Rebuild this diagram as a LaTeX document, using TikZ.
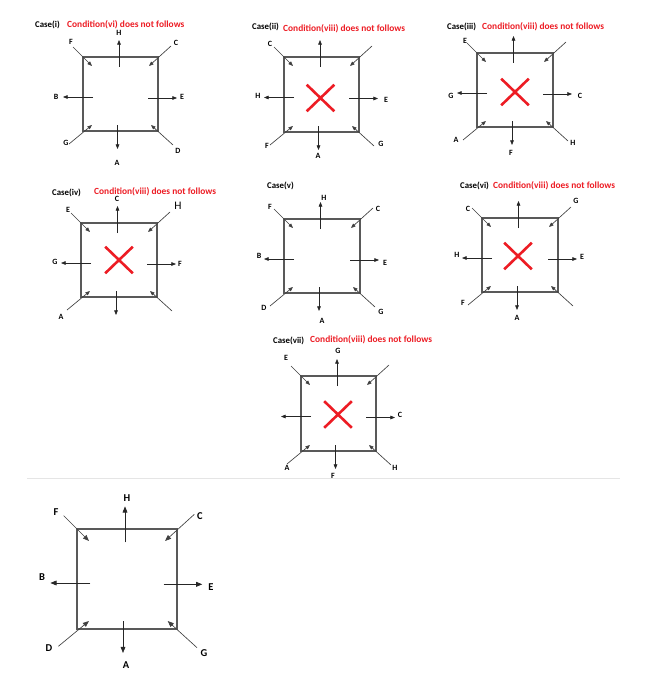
\documentclass[tikz,border=0pt]{standalone}
\usepackage{fontspec}
\setmainfont{Carlito}
\usetikzlibrary{arrows.meta,shapes.misc}
\definecolor{cred}{RGB}{237,28,36}
\tikzset{
 sqbox/.style={draw=black!65, line width=1.2pt, inner sep=0pt, outer sep=0pt},
 outarrow/.style={draw=black!85, line width=0.65pt},
 diagarrow/.style={draw=black!75, line width=0.65pt},
 lbl/.style={font=\bfseries\fontsize{8}{9}\selectfont, inner sep=0pt},
 biglbl/.style={font=\bfseries\fontsize{10.5}{11}\selectfont, inner sep=0pt},
 hlbl/.style={font=\fontsize{11.5}{12}\selectfont, inner sep=0pt},
 casettl/.style={font=\bfseries\fontsize{8.8}{10}\selectfont, inner sep=0pt, anchor=west},
 condttl/.style={font=\bfseries\fontsize{9.4}{10}\selectfont, text=cred, inner sep=0pt, anchor=west},
 redx/.style={cross out, draw=cred, line width=2.6pt, inner sep=0pt, minimum width=25pt, minimum height=24pt},
 sepline/.style={draw=black!10, line width=0.8pt},
}
% #1 name, #2 x1, #3 y1, #4 x2, #5 y2, #6 scale
\newcommand\sqcase[6]{%
 \pgfmathsetmacro\mx{(#2+#4)/2}%
 \pgfmathsetmacro\my{(#3+#5)/2}%
 \pgfmathsetmacro\sw{#4-#2}%
 \pgfmathsetmacro\sh{#5-#3}%
 \node[sqbox, minimum width=\sw pt, minimum height=\sh pt] (#1-sq) at (\mx,\my) {};
 \coordinate (#1-ni) at (\mx-1.5*#6, #3+10*#6);
 \coordinate (#1-no) at (\mx-1.5*#6, #3-17*#6);
 \coordinate (#1-si) at (\mx-3*#6, #5-6*#6);
 \coordinate (#1-so) at (\mx-3*#6, #5+18*#6);
 \coordinate (#1-wi) at (#2+10*#6, \my+3*#6);
 \coordinate (#1-wo) at (#2-20*#6, \my+3*#6);
 \coordinate (#1-ei) at (#4-10*#6, \my+4*#6);
 \coordinate (#1-eo) at (#4+19*#6, \my+4*#6);
 \coordinate (#1-nwo) at (#2-10*#6, #3-10*#6);
 \coordinate (#1-nwi) at (#2+9*#6, #3+9*#6);
 \coordinate (#1-neo) at (#4+13*#6, #3-11*#6);
 \coordinate (#1-nei) at (#4-9*#6, #3+9*#6);
 \coordinate (#1-swo) at (#2-14*#6, #5+13*#6);
 \coordinate (#1-swi) at (#2+9*#6, #5-6*#6);
 \coordinate (#1-seo) at (#4+15*#6, #5+14*#6);
 \coordinate (#1-sei) at (#4-7*#6, #5-6*#6);
 \draw[outarrow, -{Triangle[length=4.6pt,width=3.6pt,scale=#6]}] (#1-ni) -- (#1-no);
 \draw[outarrow, -{Triangle[length=4.6pt,width=3.6pt,scale=#6]}] (#1-si) -- (#1-so);
 \draw[outarrow, -{Triangle[length=4.6pt,width=3.6pt,scale=#6]}] (#1-wi) -- (#1-wo);
 \draw[outarrow, -{Triangle[length=4.6pt,width=3.6pt,scale=#6]}] (#1-ei) -- (#1-eo);
 \draw[diagarrow, -{Triangle[length=4.6pt,width=3.6pt,scale=#6]}] (#1-nwo) -- (#1-nwi);
 \draw[diagarrow, -{Triangle[length=4.6pt,width=3.6pt,scale=#6]}] (#1-neo) -- (#1-nei);
 \draw[diagarrow, -{Triangle[length=4.6pt,width=3.6pt,scale=#6]}] (#1-swo) -- (#1-swi);
 \draw[diagarrow, -{Triangle[length=4.6pt,width=3.6pt,scale=#6]}] (#1-seo) -- (#1-sei);
}
\begin{document}
\begin{tikzpicture}[x=1pt,y=-1pt]
\fill[white] (0,0) rectangle (645,677);
\useasboundingbox (0,0) rectangle (645,677);

% ---------- Case (i)
\node[casettl] (t1) at (35,25) {Case(i)};
\node[condttl] (c1) at (67,25) {Condition(vi) does not follows};
\sqcase{i}{83}{57}{158}{131}{1}
\node[lbl] (i-H) at (119,33) {H};
\node[lbl] (i-F) at (71,42) {F};
\node[lbl] (i-C) at (176,43) {C};
\node[lbl] (i-B) at (56,97) {B};
\node[lbl] (i-E) at (182,97) {E};
\node[lbl] (i-G) at (66,143) {G};
\node[lbl] (i-A) at (117,163) {A};
\node[lbl] (i-D) at (178,151) {D};

% ---------- Case (ii)
\node[casettl] (t2) at (252,27) {Case(ii)};
\node[condttl] (c2) at (283,29) {Condition(viii) does not follows};
\sqcase{ii}{284}{57}{359}{132}{1}
\node[redx] (ii-X) at (320.5,98) {};
\node[lbl] (ii-C) at (270,44) {C};
\node[lbl] (ii-H) at (258,96) {H};
\node[lbl] (ii-E) at (386,100) {E};
\node[lbl] (ii-F) at (267,146) {F};
\node[lbl] (ii-A) at (318,156) {A};
\node[lbl] (ii-G) at (381,144) {G};

% ---------- Case (iii)
\node[casettl] (t3) at (447,27) {Case(iii)};
\node[condttl] (c3) at (482,27) {Condition(viii) does not follows};
\sqcase{iii}{477}{53}{553}{127}{1}
\node[redx] (iii-X) at (515,92) {};
\node[lbl] (iii-E) at (465,41) {E};
\node[lbl] (iii-G) at (451,96) {G};
\node[lbl] (iii-C) at (580,96) {C};
\node[lbl] (iii-A) at (456,140) {A};
\node[lbl] (iii-F) at (511,153) {F};
\node[lbl] (iii-H) at (573,143) {H};

% ---------- Case (iv)
\node[casettl] (t4) at (52,193) {Case(iv)};
\node[condttl] (c4) at (94,192) {Condition(viii) does not follows};
\sqcase{iv}{81}{223}{157}{297}{1}
\node[redx] (iv-X) at (119,260) {};
\node[lbl] (iv-C) at (117,199) {C};
\node[lbl] (iv-E) at (68,210) {E};
\node[hlbl] (iv-H) at (178,206) {H};
\node[lbl] (iv-G) at (55,262) {G};
\node[lbl] (iv-F) at (180,264) {F};
\node[lbl] (iv-A) at (61,317) {A};

% ---------- Case (v)
\node[casettl] (t5) at (267,186) {Case(v)};
\sqcase{v}{284}{219}{360}{293}{1}
\node[lbl] (v-H) at (324,198) {H};
\node[lbl] (v-F) at (270,207) {F};
\node[lbl] (v-C) at (378,209) {C};
\node[lbl] (v-B) at (259,256) {B};
\node[lbl] (v-E) at (385,263) {E};
\node[lbl] (v-D) at (264,308) {D};
\node[lbl] (v-A) at (322,321) {A};
\node[lbl] (v-G) at (381,312) {G};

% ---------- Case (vi)
\node[casettl] (t6) at (460,186) {Case(vi)};
\node[condttl] (c6) at (493,186) {Condition(viii) does not follows};
\sqcase{vi}{482}{218}{558}{292}{1}
\node[redx] (vi-X) at (518,256) {};
\node[lbl] (vi-C) at (468,209) {C};
\node[lbl] (vi-G) at (576,201) {G};
\node[lbl] (vi-H) at (457,255) {H};
\node[lbl] (vi-E) at (582,257) {E};
\node[lbl] (vi-F) at (463,303) {F};
\node[lbl] (vi-A) at (517,318) {A};

% ---------- Case (vii)
\node[casettl] (t7) at (273,341) {Case(vii)};
\node[condttl] (c7) at (310,340) {Condition(viii) does not follows};
\sqcase{vii}{301}{376}{376}{451}{1}
\node[redx] (vii-X) at (338,414.5) {};
\node[lbl] (vii-G) at (338,351) {G};
\node[lbl] (vii-E) at (286,358) {E};
\node[lbl] (vii-C) at (400,415) {C};
\node[lbl] (vii-A) at (287,468) {A};
\node[lbl] (vii-F) at (333,476) {F};
\node[lbl] (vii-H) at (395,468) {H};

% ---------- separator
\coordinate (sepL) at (27,478);
\coordinate (sepR) at (620,478);
\draw[sepline] (sepL) -- (sepR);

% ---------- bottom diagram
\sqcase{b}{77}{529}{177}{629}{1.33}
\node[biglbl] (b-H) at (127,498) {H};
\node[biglbl] (b-F) at (56,512) {F};
\node[biglbl] (b-C) at (200,516) {C};
\node[biglbl] (b-B) at (42,577) {B};
\node[biglbl] (b-E) at (211,587) {E};
\node[biglbl] (b-D) at (49,648) {D};
\node[biglbl] (b-A) at (126,665) {A};
\node[biglbl] (b-G) at (204,653) {G};
\end{tikzpicture}
\end{document}
